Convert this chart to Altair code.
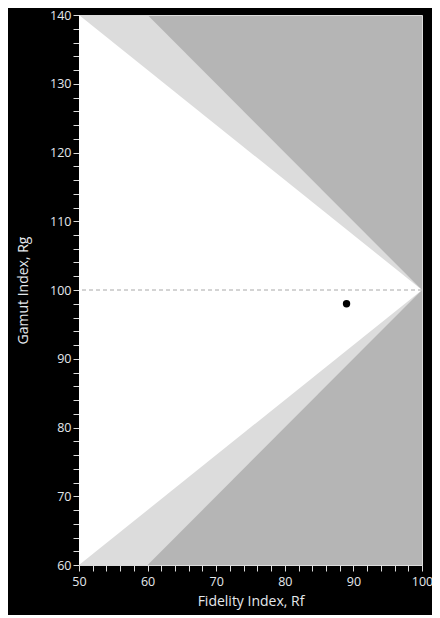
import altair as alt
import pandas as pd

# Axis ranges / ticks
rf_domain = [50, 100]
rg_domain = [60, 140]
rf_ticks = list(range(50, 101, 2))
rg_ticks = list(range(60, 141, 2))

# Light-gray wedge (Rf, upper Rg, lower Rg)
wedge_rf = [50, 60, 100]
wedge_top = [140, 140, 100]
wedge_bot = [60, 60, 100]

# White triangle
tri_rf = [50, 100]
tri_top = [140, 100]
tri_bot = [60, 100]

# Reference line
ref_rg = [100]

# Measured source
point_rf = [89]
point_rg = [98]

FONT = "Open Sans"
TXT = "#e4e8ec"
LINE = "#dcdcdc"

xs = alt.Scale(domain=rf_domain, nice=False, zero=False)
ys = alt.Scale(domain=rg_domain, nice=False, zero=False)

xaxis = alt.Axis(
    values=rf_ticks,
    labelExpr="datum.value % 10 == 0 ? datum.label : ''",
    title="Fidelity Index, Rf",
    grid=False, tickSize=6, labelPadding=4, titlePadding=7,
    labelFlush=False, labelOverlap=False,
)
yaxis = alt.Axis(
    values=rg_ticks,
    labelExpr="datum.value % 10 == 0 ? datum.label : ''",
    title="Gamut Index, Rg",
    grid=False, tickSize=6, labelPadding=2, titlePadding=19,
    labelFlush=False, labelOverlap=False,
)

wedge_df = pd.DataFrame({"rf": wedge_rf, "top": wedge_top, "bot": wedge_bot})
tri_df = pd.DataFrame({"rf": tri_rf, "top": tri_top, "bot": tri_bot})
ref_df = pd.DataFrame({"rg": ref_rg})
pt_df = pd.DataFrame({"rf": point_rf, "rg": point_rg})

wedge = alt.Chart(wedge_df).mark_area(color="#dcdcdc", opacity=1).encode(
    x=alt.X("rf:Q", scale=xs, axis=xaxis),
    y=alt.Y("top:Q", scale=ys, axis=yaxis),
    y2="bot:Q",
)
tri = alt.Chart(tri_df).mark_area(color="#ffffff", opacity=1).encode(
    x=alt.X("rf:Q", scale=xs, axis=xaxis),
    y=alt.Y("top:Q", scale=ys, axis=yaxis),
    y2="bot:Q",
)
ref = alt.Chart(ref_df).mark_rule(color="#a8a8a8", strokeDash=[4, 3], strokeWidth=1).encode(
    y=alt.Y("rg:Q", scale=ys, axis=yaxis),
)
pt = alt.Chart(pt_df).mark_point(filled=True, color="#000000", size=55, opacity=1).encode(
    x=alt.X("rf:Q", scale=xs, axis=xaxis),
    y=alt.Y("rg:Q", scale=ys, axis=yaxis),
)

chart = alt.layer(wedge, tri, ref, pt).properties(
    width=343,
    height=550,
    background="#000000",
    autosize=alt.AutoSizeParams(type="none"),
    padding={"left": 71, "top": 7, "right": 10, "bottom": 50},
).configure_view(
    fill="#b5b5b5", stroke=LINE, strokeWidth=1,
).configure_axis(
    domainColor=LINE, tickColor=LINE, labelColor=TXT, titleColor=TXT,
    labelFont=FONT, titleFont=FONT, labelFontSize=12.5, titleFontSize=14,
    titleFontWeight="normal", labelOverlap=False,
)

chart.save("out.html", embed_options={"renderer": "svg", "actions": False})
